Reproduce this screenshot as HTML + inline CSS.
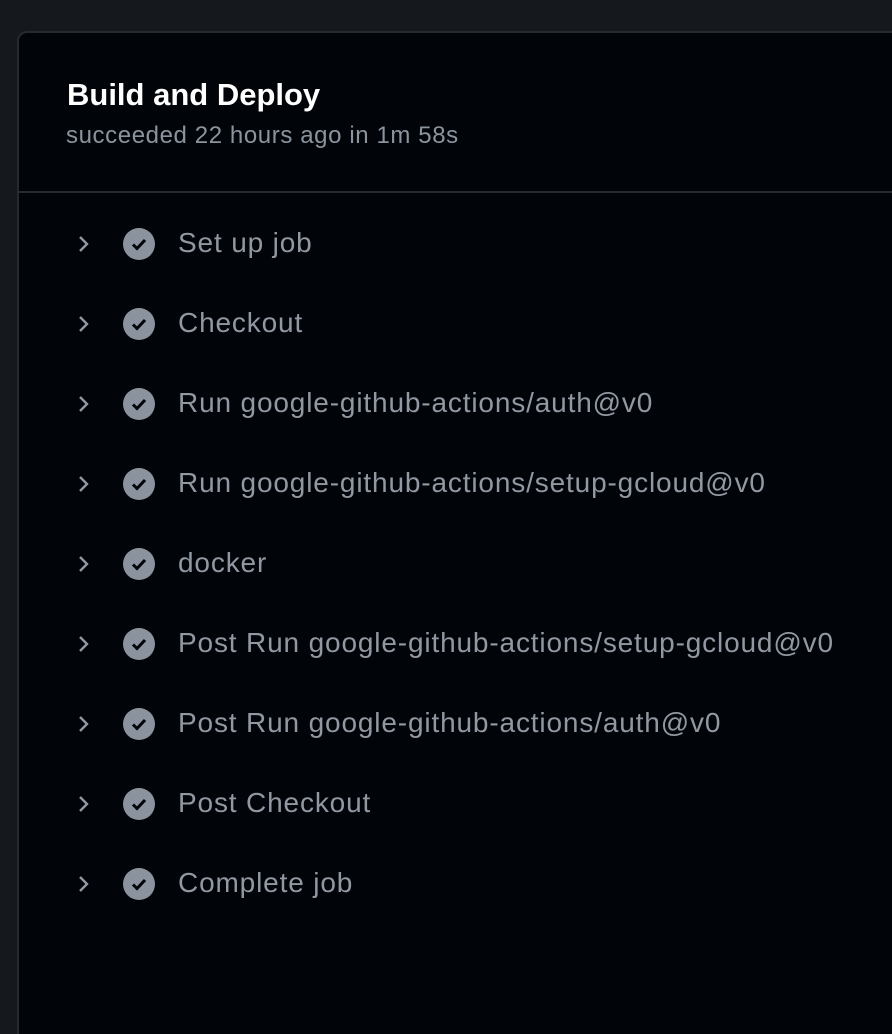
<!DOCTYPE html>
<html><head><style>
html,body{margin:0;padding:0;background:#15181d;width:892px;height:1034px;overflow:hidden;font-family:"Liberation Sans",sans-serif}
.card{position:absolute;left:17px;top:31px;width:900px;height:1003px;background:#010409;border:2px solid #262b31;border-bottom:none;border-radius:10px 10px 0 0;box-sizing:border-box}
.hdr{position:absolute;left:0;top:0;right:0;height:158px;border-bottom:2px solid #262b31}
.t{position:absolute;left:48px;top:44px;color:#fff;font-weight:bold;font-size:31px}
.s{position:absolute;left:47px;top:89px;color:#8b949e;font-size:24px;letter-spacing:0.6px}
.row{position:absolute;left:0;height:40px;width:880px}
.chev{position:absolute;left:58px;top:11px}
.ic{position:absolute;left:104px;top:4px;width:32px;height:32px;border-radius:50%;background:#8b949e}
.ic svg{position:absolute;left:0;top:0}
.lb{position:absolute;left:159px;top:3px;color:#9198a1;font-size:28px;letter-spacing:0.85px;white-space:nowrap}
</style></head><body>
<div class="card">
<div class="hdr"><div class="t">Build and Deploy</div><div class="s">succeeded 22 hours ago in 1m 58s</div></div>
<div class="row" style="top:191px"><svg class="chev" width="14" height="18"><path d="M3 2l7 7-7 7" stroke="#9198a1" stroke-width="2.4" fill="none"/></svg><div class="ic"><svg width="32" height="32"><path d="M10 16.5l4 4 8-8.5" stroke="#010409" stroke-width="3" fill="none"/></svg></div><div class="lb">Set up job</div></div>
<div class="row" style="top:271px"><svg class="chev" width="14" height="18"><path d="M3 2l7 7-7 7" stroke="#9198a1" stroke-width="2.4" fill="none"/></svg><div class="ic"><svg width="32" height="32"><path d="M10 16.5l4 4 8-8.5" stroke="#010409" stroke-width="3" fill="none"/></svg></div><div class="lb">Checkout</div></div>
<div class="row" style="top:351px"><svg class="chev" width="14" height="18"><path d="M3 2l7 7-7 7" stroke="#9198a1" stroke-width="2.4" fill="none"/></svg><div class="ic"><svg width="32" height="32"><path d="M10 16.5l4 4 8-8.5" stroke="#010409" stroke-width="3" fill="none"/></svg></div><div class="lb">Run google-github-actions/auth@v0</div></div>
<div class="row" style="top:431px"><svg class="chev" width="14" height="18"><path d="M3 2l7 7-7 7" stroke="#9198a1" stroke-width="2.4" fill="none"/></svg><div class="ic"><svg width="32" height="32"><path d="M10 16.5l4 4 8-8.5" stroke="#010409" stroke-width="3" fill="none"/></svg></div><div class="lb">Run google-github-actions/setup-gcloud@v0</div></div>
<div class="row" style="top:511px"><svg class="chev" width="14" height="18"><path d="M3 2l7 7-7 7" stroke="#9198a1" stroke-width="2.4" fill="none"/></svg><div class="ic"><svg width="32" height="32"><path d="M10 16.5l4 4 8-8.5" stroke="#010409" stroke-width="3" fill="none"/></svg></div><div class="lb">docker</div></div>
<div class="row" style="top:591px"><svg class="chev" width="14" height="18"><path d="M3 2l7 7-7 7" stroke="#9198a1" stroke-width="2.4" fill="none"/></svg><div class="ic"><svg width="32" height="32"><path d="M10 16.5l4 4 8-8.5" stroke="#010409" stroke-width="3" fill="none"/></svg></div><div class="lb">Post Run google-github-actions/setup-gcloud@v0</div></div>
<div class="row" style="top:671px"><svg class="chev" width="14" height="18"><path d="M3 2l7 7-7 7" stroke="#9198a1" stroke-width="2.4" fill="none"/></svg><div class="ic"><svg width="32" height="32"><path d="M10 16.5l4 4 8-8.5" stroke="#010409" stroke-width="3" fill="none"/></svg></div><div class="lb">Post Run google-github-actions/auth@v0</div></div>
<div class="row" style="top:751px"><svg class="chev" width="14" height="18"><path d="M3 2l7 7-7 7" stroke="#9198a1" stroke-width="2.4" fill="none"/></svg><div class="ic"><svg width="32" height="32"><path d="M10 16.5l4 4 8-8.5" stroke="#010409" stroke-width="3" fill="none"/></svg></div><div class="lb">Post Checkout</div></div>
<div class="row" style="top:831px"><svg class="chev" width="14" height="18"><path d="M3 2l7 7-7 7" stroke="#9198a1" stroke-width="2.4" fill="none"/></svg><div class="ic"><svg width="32" height="32"><path d="M10 16.5l4 4 8-8.5" stroke="#010409" stroke-width="3" fill="none"/></svg></div><div class="lb">Complete job</div></div>
</div>
</body></html>
